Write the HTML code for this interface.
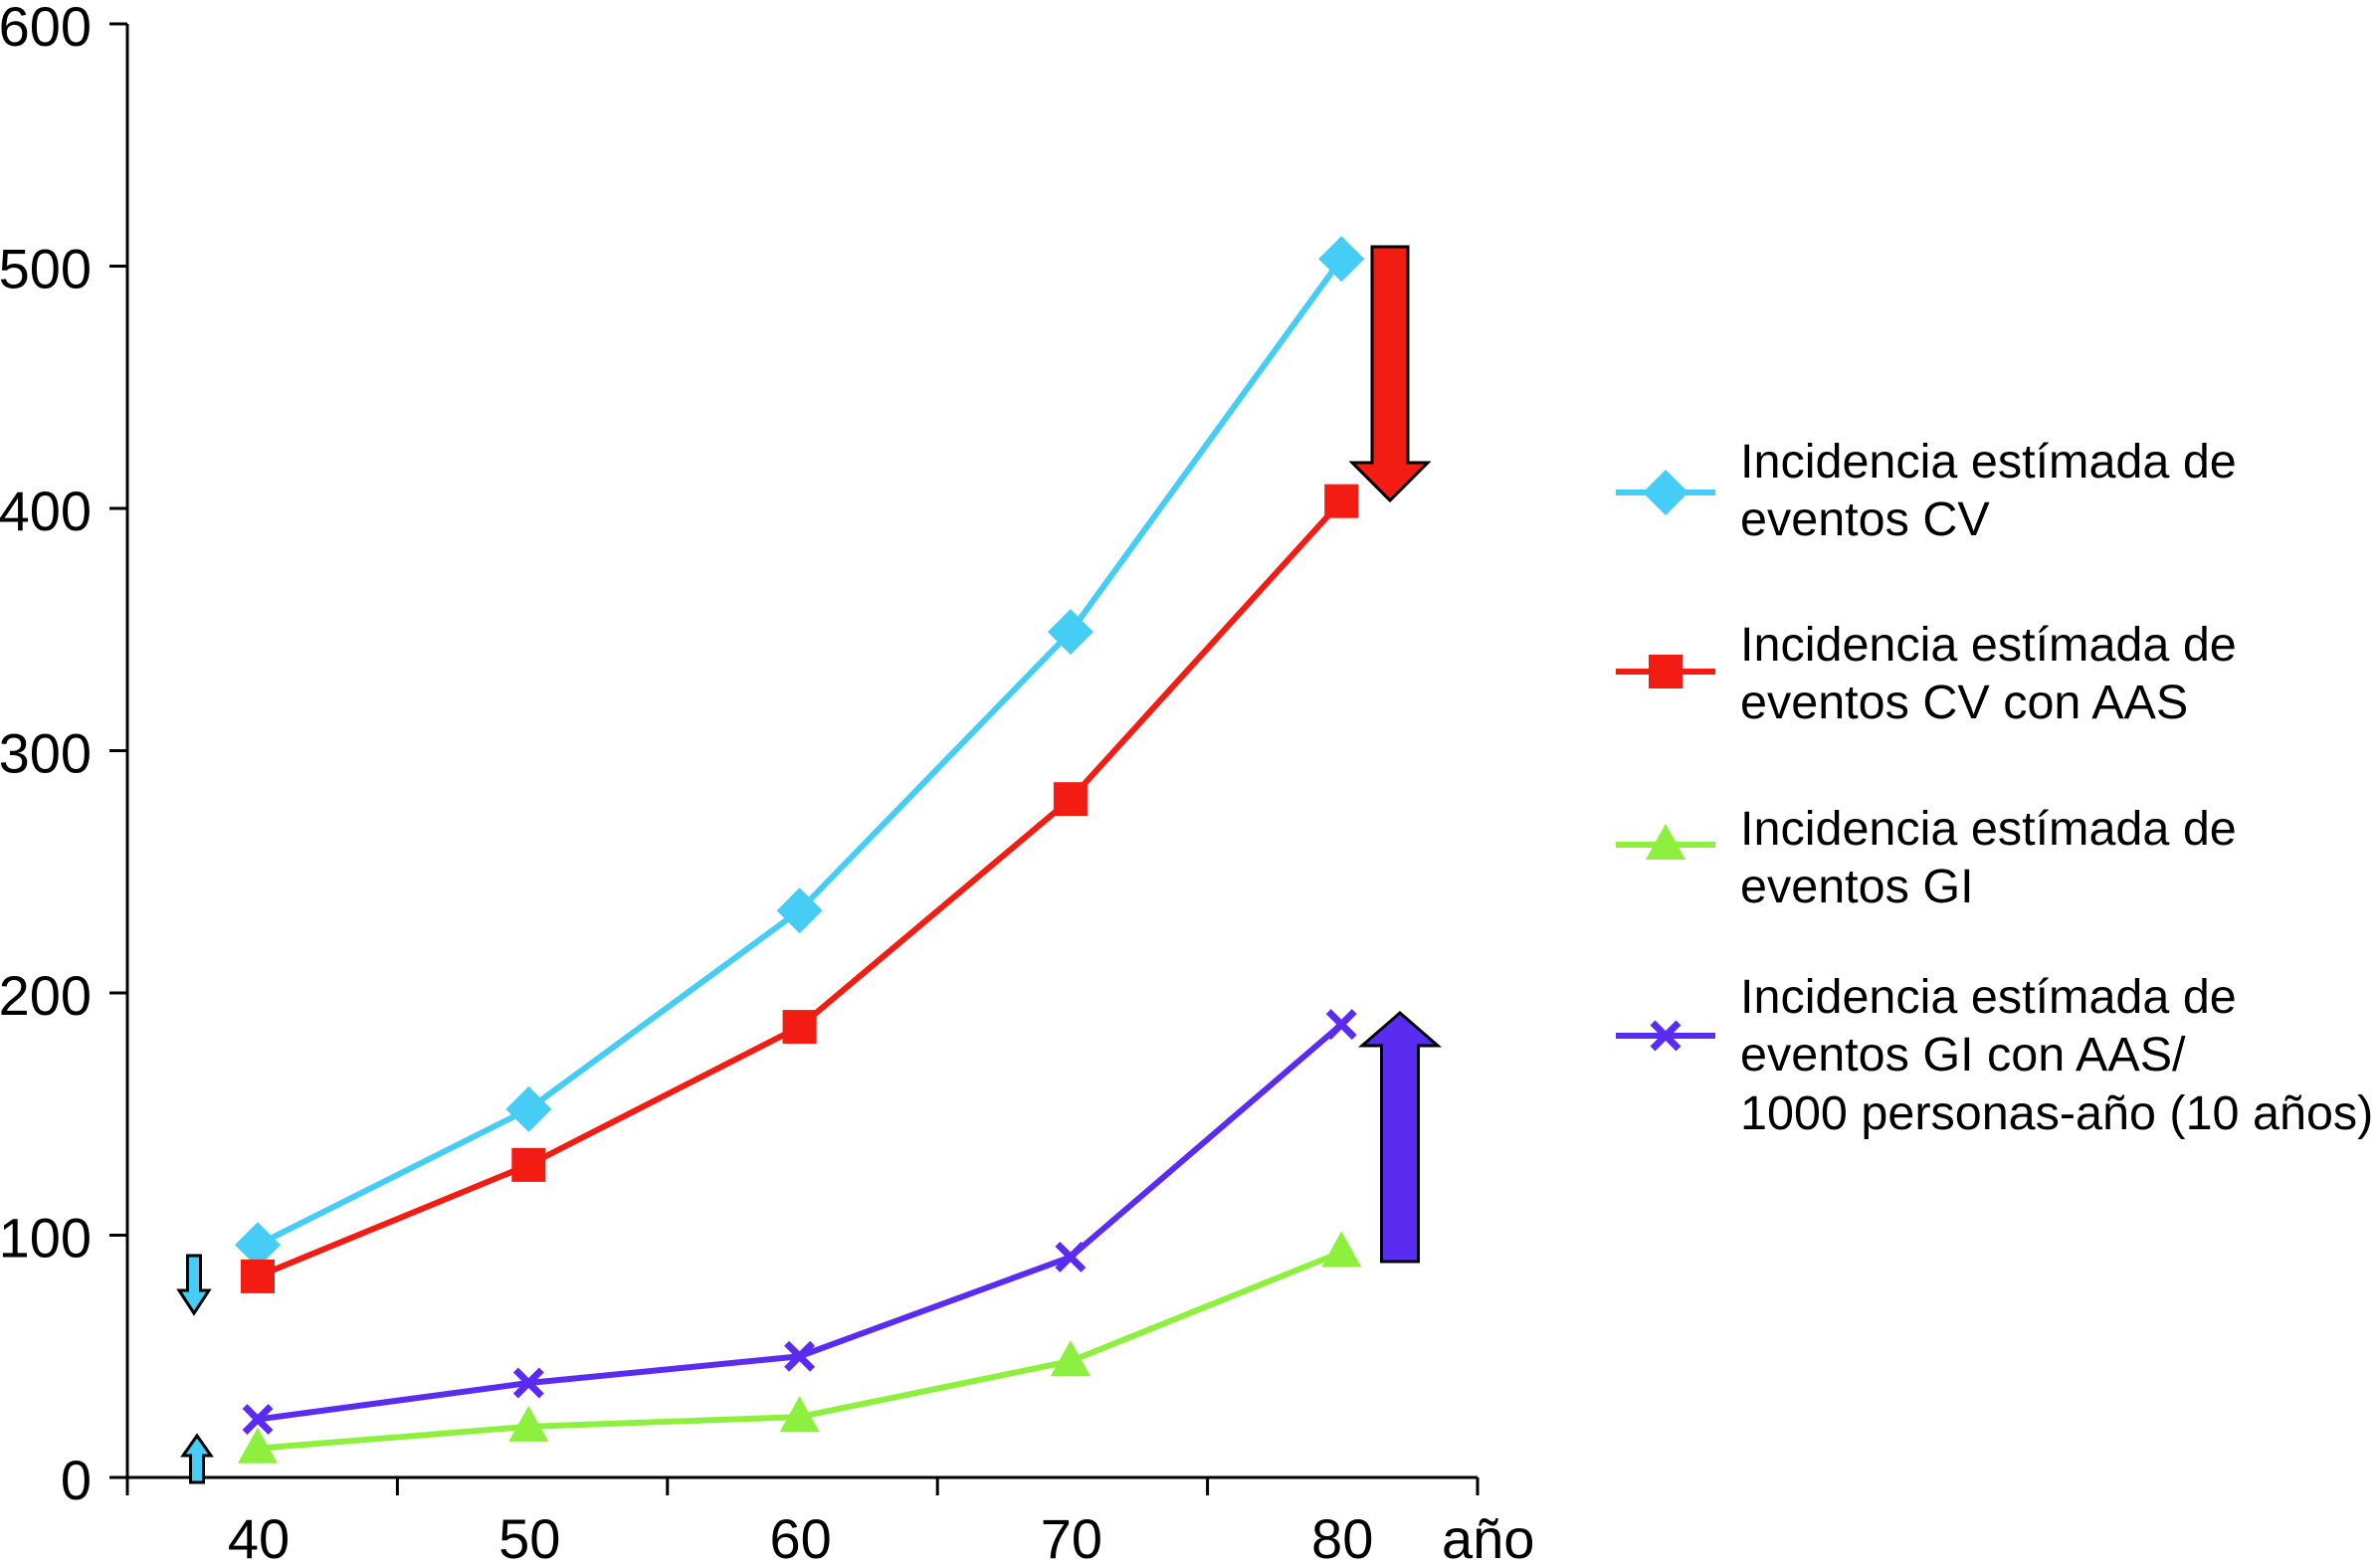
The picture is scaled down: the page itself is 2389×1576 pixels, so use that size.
<!DOCTYPE html>
<html><head><meta charset="utf-8"><style>
html,body{margin:0;padding:0;background:#fff;}
svg{display:block;font-family:"Liberation Sans",Arial,sans-serif;}
</style></head><body>
<svg id="chart" width="2389" height="1576" viewBox="0 0 2389 1576">
<g id="axes"></g>
<g id="series"></g>
<g id="arrows"></g>
<g id="legend"></g>
</svg>
<script>
const categories = ["40","50","60","70","80"];
const yTicks = [0,100,200,300,400,500,600];
const cvValues = [96,152,234,349,503];
const cvAasValues = [83,129,186,280,403];
const giValues = [12,21,25,48,93];
const giAasValues = [24,39,50,91,187];
const legendLabels = [
 ["Incidencia estímada de","eventos CV"],
 ["Incidencia estímada de","eventos CV con AAS"],
 ["Incidencia estímada de","eventos GI"],
 ["Incidencia estímada de","eventos GI con AAS/","1000 personas-año (10 años)"]
];
const NS="http://www.w3.org/2000/svg";
const X0=128, BAND=271.4, Y0=1485, YPX=2.435;
function xs(i){return X0+131+272.3*i;}
function ys(v){return Y0-v*YPX;}
function mk(tag,attrs,parent){const e=document.createElementNS(NS,tag);for(const k in attrs)e.setAttribute(k,attrs[k]);parent.appendChild(e);return e;}
const axes=document.getElementById('axes');
let e;
e=mk('line',{x1:X0,y1:ys(600),x2:X0,y2:Y0,stroke:'#000','stroke-width':3},axes);


e=mk('line',{x1:X0,y1:Y0,x2:X0+BAND*5,y2:Y0,stroke:'#000','stroke-width':3},axes);


yTicks.forEach(v=>{
 const t=mk('line',{x1:X0-18,y1:ys(v),x2:X0,y2:ys(v),stroke:'#000','stroke-width':3},axes);
 
 
 const l=mk('text',{x:92,y:ys(v)+22,'font-size':56,'text-anchor':'end'},axes);
 l.textContent=v;
 
 
});
for(let i=0;i<=5;i++){
 const t=mk('line',{x1:X0+BAND*i,y1:Y0,x2:X0+BAND*i,y2:Y0+18,stroke:'#000','stroke-width':3},axes);
 
 
}
categories.forEach((c,i)=>{
 const l=mk('text',{x:xs(i)+1,y:1566,'font-size':56,'text-anchor':'middle'},axes);
 l.textContent=c;
 
 
});
e=mk('text',{x:1449,y:1566,'font-size':56},axes);
e.textContent='año';



function marker(type,x,y,color,parent){
 let m;
 if(type==='diamond') m=mk('polygon',{points:`${x},${y-23} ${x+23},${y} ${x},${y+23} ${x-23},${y}`,fill:color},parent);
 else if(type==='square') m=mk('rect',{x:x-17,y:y-17,width:34,height:34,fill:color},parent);
 else if(type==='triangle') m=mk('polygon',{points:`${x},${y-21} ${x+20},${y+15} ${x-20},${y+15}`,fill:color},parent);
 else { m=mk('path',{d:`M${x-13},${y-13}L${x+13},${y+13}M${x+13},${y-13}L${x-13},${y+13}`,stroke:color,'stroke-width':7},parent); }
 return m;
}
const seriesDefs=[
 {vals:cvValues,color:'#45cdf5',type:'diamond',name:'cv'},
 {vals:cvAasValues,color:'#f21c12',type:'square',name:'cv-aas'},
 {vals:giValues,color:'#8ef03e',type:'triangle',name:'gi'},
 {vals:giAasValues,color:'#5a2cf2',type:'x',name:'gi-aas'}
];
const sg=document.getElementById('series');
seriesDefs.forEach(s=>{
 const pts=s.vals.map((v,i)=>xs(i)+','+ys(v)).join(' ');
 const pl=mk('polyline',{points:pts,fill:'none',stroke:s.color,'stroke-width':6},sg);
 
 
 s.vals.forEach((v,i)=>{
  const m=marker(s.type,xs(i),ys(v),s.color,sg);
  
  
 });
});
const ag=document.getElementById('arrows');
function arrow(cx,shaftW,headW,tail,headBase,tip,color,name){
 const a=mk('polygon',{points:`${cx-shaftW/2},${tail} ${cx+shaftW/2},${tail} ${cx+shaftW/2},${headBase} ${cx+headW/2},${headBase} ${cx},${tip} ${cx-headW/2},${headBase} ${cx-shaftW/2},${headBase}`,fill:color,stroke:'#000','stroke-width':3,'stroke-linejoin':'miter'},ag);
 
 
}
arrow(1397,36,76,248,465,503,'#f21c12','red-down-arrow');
arrow(1407,37,76,1268,1051,1018,'#5a2cf2','purple-up-arrow');
arrow(195,13,30,1262,1297,1320,'#45cdf5','small-down-arrow');
arrow(198,13,28,1490,1463,1443,'#45cdf5','small-up-arrow');
const lg=document.getElementById('legend');
const legY=[495,675,849,1041];
const legBase=[[480,538],[664,722],[849,907],[1018,1076,1135]];
seriesDefs.forEach((s,k)=>{
 const l=mk('line',{x1:1624,y1:legY[k],x2:1724,y2:legY[k],stroke:s.color,'stroke-width':6},lg);
 
 
 const m=marker(s.type,1674,legY[k],s.color,lg);
 
 
 legendLabels[k].forEach((txt,j)=>{
  const t=mk('text',{x:1749,y:legBase[k][j],'font-size':48.5},lg);
  t.textContent=txt;
  
  
 });
});
</script>
</body></html>
